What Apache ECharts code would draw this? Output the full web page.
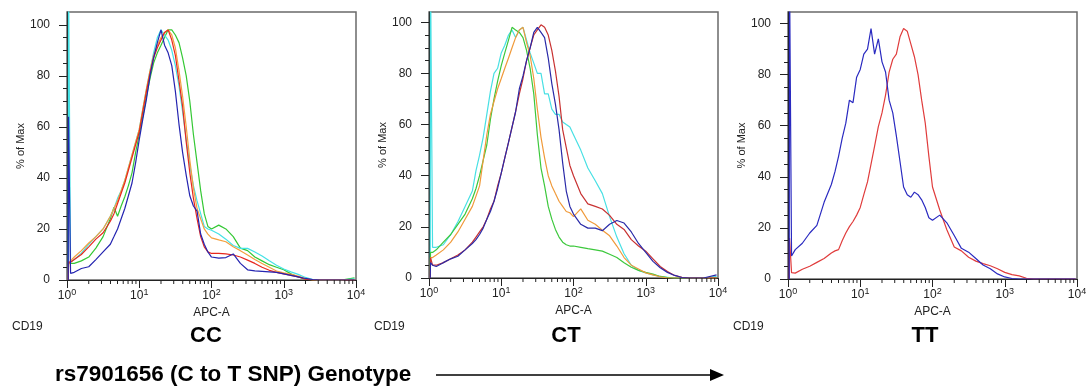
<!DOCTYPE html>
<html>
<head>
<meta charset="utf-8">
<title>CD19 APC-A by rs7901656 genotype</title>
<script src="https://cdn.jsdelivr.net/npm/echarts@6/dist/echarts.min.js"></script>
<style>
  html, body { margin: 0; padding: 0; background: #fff; }
  #chart { width: 1087px; height: 387px; }
</style>
</head>
<body>
<div id="chart"></div>
<script>
// APC-A channel values at which every histogram is sampled
const apcA = [1.04, 1.05, 1.12, 1.26, 1.58, 2.0, 2.51, 3.16, 3.98, 4.47, 5.01, 5.62, 6.31, 7.08, 7.94, 8.91, 10,
  11.2, 12.6, 14.1, 15.8, 17.8, 20.0, 22.4, 25.1, 28.2, 31.6, 35.5, 39.8, 44.7, 50.1, 56.2, 63.1, 70.8, 79.4, 89.1, 100,
  126, 158, 200, 251, 316, 398, 501, 631, 794, 1000, 1259, 1585, 1995, 2512, 3162, 3981, 6310, 9550];

// CC (% of max)
const ccBlue = [0, 64, 2.6, 3, 4.5, 5.2, 8, 11, 14, 17, 20, 24, 28, 33, 38, 46, 55, 63, 71, 80, 87, 93, 98, 92, 89, 84, 74, 61, 50, 41, 33, 29, 27, 18, 14, 11, 9, 8.6, 8.8, 10.2, 6.5, 4, 3.6, 3.4, 3.2, 3, 2.4, 1.8, 1.2, 0.6, 0.2, 0, 0, 0, 0];
const ccRed = [0, 7, 7, 8, 10, 13, 16, 18.5, 23, 26, 30, 34, 38, 43, 48, 53, 58, 66, 74, 81, 87, 91, 94, 97, 98, 94, 88, 78, 68, 54, 42, 32, 24, 17, 13, 11, 10.4, 10.4, 10.2, 9.8, 9, 7.8, 6.5, 5, 3.8, 3, 2.4, 1.8, 1.2, 0.3, 0, 0, 0, 0, 0];
const ccOrange = [0, 6, 7.5, 9, 11.5, 14.5, 17, 20, 25, 28, 31, 35, 39, 44, 49, 54, 59, 67, 75, 82, 88, 92, 95, 97, 98, 96, 91, 82, 72, 60, 47, 36, 28, 24, 20, 18, 16.5, 15.7, 15, 13, 11.5, 9.8, 8, 6.5, 5, 3.5, 2.8, 2.2, 1.5, 0.6, 0, 0, 0, 0, 0];
const ccGreen = [0, 6.5, 6.5, 6.5, 7.5, 9, 12.5, 17, 24, 28.5, 25, 29, 32.6, 37, 42, 50, 57, 64, 72, 79, 85, 89, 92, 95, 98, 98, 96, 93, 87, 80, 70, 57, 46, 35, 26, 21, 20, 21.5, 20, 17, 12.5, 11.5, 9, 7.5, 6, 5, 4, 2.4, 1.2, 0.3, 0, 0, 0, 0, 0.8];
const ccCyan = [0, 120, 7, 8, 10.5, 14, 17, 20, 25, 28, 32, 35, 39, 44, 49, 54, 59, 67, 75, 82, 89, 95, 98, 96, 94, 90, 84, 76, 66, 55, 45, 37, 31, 26, 21, 20, 19.5, 18, 16, 13.5, 12.4, 12.4, 11, 9.4, 7.5, 5.8, 4.3, 3.2, 2.2, 1, 0.2, 0, 0, 0, 0.5];

// CT
const ctCyan = [0, 120, 12, 12, 13, 17, 22, 28, 34, 42, 48, 55, 64, 73, 80, 82, 88, 91, 95, 97, 94, 97, 98, 93, 88, 84, 80, 80, 72, 72, 66, 64, 64, 61, 60, 59, 56, 50, 43, 38, 33, 24, 16, 9.5, 5, 3, 2, 1.2, 0.6, 0.3, 0, 0, 0, 0, 0.6];
const ctGreen = [0, 10, 10, 11, 14, 17, 21, 25, 31, 35, 40, 46, 52, 62, 70, 77, 83, 88, 93, 98, 97, 96, 94, 89, 82, 72, 56, 43, 36, 28, 23, 19, 16, 14, 13, 12.5, 12.5, 12, 11.5, 11, 10.5, 9.3, 8, 6, 4.2, 3, 2.2, 1.5, 0.6, 0.2, 0, 0, 0, 0, 0];
const ctOrange = [0, 8, 8, 9, 11, 14, 18, 23, 28, 32, 36, 46, 56, 64, 69, 74, 78, 82, 86, 90, 94, 97, 98, 92, 87, 78, 66, 55, 47, 40, 36, 33, 30, 28, 26, 25.5, 24, 27, 22.6, 21, 18.7, 16.5, 12.5, 8, 5, 3.5, 2, 1.2, 0.5, 0, 0, 0, 0, 0, 0];
const ctBlue = [0, 6, 5, 4.5, 6, 7.5, 8.5, 11, 13.5, 15, 17, 19.5, 23, 26, 30, 35, 41, 47, 53, 59, 65, 74, 79, 85, 90, 96, 98, 96, 94, 86, 76, 68, 58, 45, 34, 28, 25, 21, 19.5, 19.5, 18.5, 21, 22.5, 21.5, 18, 13.5, 10, 6.5, 4, 2.2, 1, 0.2, 0, 0, 1.2];
const ctRed = [0, 8, 5, 5, 6, 7.5, 9, 11, 14, 16, 18, 20, 23, 27, 30, 36, 41, 47, 53, 59, 65, 72, 78, 85, 90, 95, 97, 99, 98, 95, 89, 81, 71, 58, 51, 44, 40, 33, 29, 28, 27, 24.5, 21, 19, 15, 12.5, 10.5, 7.5, 4.5, 2.5, 1, 0.3, 0, 0, 0];

// TT
const ttBlue = [0, 120, 9, 11.5, 14, 18, 21, 30, 37, 42, 48, 55, 61, 70, 69, 79, 82, 88, 90, 98, 88, 94, 85, 81, 70, 65, 56, 46, 36, 33, 32, 34, 33, 31, 28, 24, 23, 25, 22, 17, 12, 10.5, 8, 5.5, 4, 2, 0.8, 0.2, 0, 0, 0, 0, 0, 0, 0];
const ttRed = [0, 16, 2.5, 2.3, 3.8, 5, 6.5, 8, 10.2, 11, 11.5, 15, 18, 20.5, 22.5, 25, 28, 33, 38, 45, 52, 59.6, 65, 72, 81, 86, 88, 94.8, 98, 97, 92, 87, 80, 70, 61, 48, 36, 27, 19.3, 12.5, 11, 8.5, 7, 6, 5.2, 4, 2.6, 1.7, 1.2, 0.3, 0, 0, 0, 0, 0];

const genotypes = ['CC', 'CT', 'TT'];
const yMajorTicks = [0, 20, 40, 60, 80, 100];
const yMinorTicks = [5, 10, 15, 25, 30, 35, 45, 50, 55, 65, 70, 75, 85, 90, 95];
const xMinorTicks = [2, 3, 4, 5, 6, 7, 8, 9, 20, 30, 40, 50, 60, 70, 80, 90,
  200, 300, 400, 500, 600, 700, 800, 900, 2000, 3000, 4000, 5000, 6000, 7000, 8000, 9000];

const font = 'Liberation Sans, Arial, sans-serif';
const ink = '#222';

const panels = [
  { left: 67, height: 268, yMax: 105, center: 206,
    traces: [[ccGreen, '#34c834'], [ccCyan, '#44e2e6'], [ccOrange, '#f4a040'], [ccRed, '#e8281e'], [ccBlue, '#2424b0']] },
  { left: 429, height: 266, yMax: 104, center: 566,
    traces: [[ctCyan, '#48e0e4'], [ctGreen, '#3cc83c'], [ctOrange, '#f09a3a'], [ctRed, '#c83232'], [ctBlue, '#2a2aa8']] },
  { left: 788, height: 267, yMax: 104.5, center: 925,
    traces: [[ttRed, '#e03c3c'], [ttBlue, '#2a2ac0']] }
];

const grid = [], xAxis = [], yAxis = [], series = [], graphic = [];

panels.forEach((p, g) => {
  grid.push({
    left: p.left, top: 12, width: 289, height: p.height,
    show: true, borderColor: '#6a6a6a', borderWidth: 1.5, backgroundColor: 'transparent',
    outerBoundsMode: 'none'
  });

  xAxis.push({
    gridIndex: g, type: 'log', logBase: 10, min: 1, max: 10000,
    name: 'APC-A', nameLocation: 'middle', nameGap: 27,
    nameTextStyle: { fontSize: 12, color: ink, fontFamily: font },
    axisLine: { onZero: false, lineStyle: { color: ink, width: 1 } },
    axisTick: { length: 8, lineStyle: { color: ink } },
    axisLabel: {
      margin: 8, color: ink, fontFamily: font,
      formatter: v => '{b|10}{s|' + Math.round(Math.log10(v)) + '}',
      rich: {
        b: { fontSize: 12, lineHeight: 16, fontFamily: font, color: ink },
        s: { fontSize: 9, lineHeight: 6, verticalAlign: 'top', fontFamily: font, color: ink }
      }
    },
    splitLine: { show: false }
  });

  // major y axis with labels
  yAxis.push({
    gridIndex: g, type: 'value', min: 0, max: p.yMax, position: 'left',
    name: '% of Max', nameLocation: 'middle', nameGap: 40, nameRotate: 90,
    nameTextStyle: { fontSize: 11, color: ink, fontFamily: font },
    axisLine: { show: true, onZero: false, lineStyle: { color: ink, width: 1 } },
    axisTick: { show: true, length: 8, customValues: yMajorTicks, lineStyle: { color: ink } },
    axisLabel: { customValues: yMajorTicks, margin: 17, fontSize: 12, color: ink, fontFamily: font },
    splitLine: { show: false }
  });
  // minor y ticks only
  yAxis.push({
    gridIndex: g, type: 'value', min: 0, max: p.yMax, position: 'left',
    axisLine: { show: false, onZero: false },
    axisTick: { show: true, length: 4, customValues: yMinorTicks, lineStyle: { color: ink } },
    axisLabel: { show: false },
    splitLine: { show: false }
  });

  p.traces.forEach(([ys, color]) => {
    series.push({
      type: 'line', xAxisIndex: g, yAxisIndex: g * 2,
      data: apcA.map((x, i) => [x, ys[i]]),
      symbol: 'none', clip: true, silent: true,
      lineStyle: { color: color, width: 1.2 }, itemStyle: { color: color }
    });
  });

  // minor log ticks under the x axis
  series.push({
    type: 'custom', xAxisIndex: g, yAxisIndex: g * 2, silent: true, z: 5,
    data: xMinorTicks.map(v => [v, 0]),
    renderItem: (params, api) => {
      const pt = api.coord([api.value(0), 0]);
      return {
        type: 'line',
        shape: { x1: pt[0], y1: pt[1], x2: pt[0], y2: pt[1] + 4 },
        style: { stroke: ink, lineWidth: 1 }
      };
    }
  });

  graphic.push({
    type: 'text', left: p.left - 55, top: 321,
    style: { text: 'CD19', fontSize: 12, fill: ink, fontFamily: font }
  });
  graphic.push({
    type: 'text', x: p.center, y: 336,
    style: { text: genotypes[g], fontSize: 22, fontWeight: 'bold', fill: '#000', fontFamily: font,
      align: 'center', verticalAlign: 'middle' }
  });
});

graphic.push({
  type: 'text', x: 55, y: 375,
  style: { text: 'rs7901656 (C to T SNP) Genotype', fontSize: 22.5, fontWeight: 'bold', fill: '#000',
    fontFamily: font, verticalAlign: 'middle' }
});
graphic.push({
  type: 'line', shape: { x1: 436, y1: 375, x2: 714, y2: 375 },
  style: { stroke: '#000', lineWidth: 1.5 }
});
graphic.push({
  type: 'polygon', shape: { points: [[710, 369], [724, 375], [710, 381]] },
  style: { fill: '#000' }
});

const chart = echarts.init(document.getElementById('chart'));
chart.setOption({
  animation: false,
  backgroundColor: '#fff',
  grid: grid,
  xAxis: xAxis,
  yAxis: yAxis,
  series: series,
  graphic: graphic
});
</script>
</body>
</html>
